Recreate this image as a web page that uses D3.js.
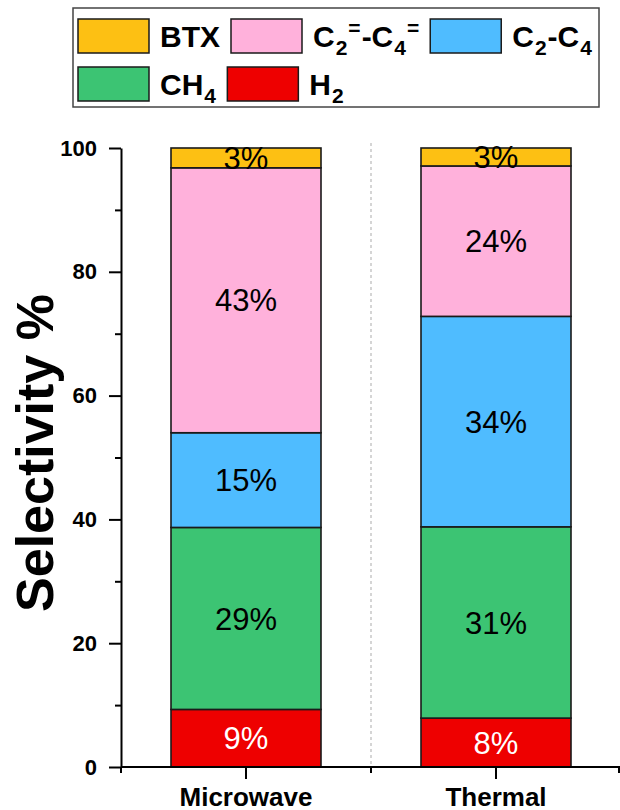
<!DOCTYPE html>
<html>
<head>
<meta charset="utf-8">
<script src="https://cdn.jsdelivr.net/npm/d3@7"></script>
<style>
  html, body { margin: 0; padding: 0; background: #fff; }
  svg { display: block; font-family: Arial, "Liberation Sans", sans-serif; }
</style>
</head>
<body>
<svg id="chart" width="620" height="810"></svg>
<script>
// Product selectivity (%) for the two heating modes, stacked bottom to top
const categories = ["Microwave", "Thermal"];
const h2Values      = [9.3, 7.9];
const ch4Values     = [29.4, 30.9];
const c2c4Values    = [15.3, 34.0];
const olefinValues  = [42.8, 24.3];
const btxValues     = [3.2, 2.9];
const yTickValues   = [0, 20, 40, 60, 80, 100];
const yMinorValues  = [10, 30, 50, 70, 90];

// Series in stacking order (bottom first)
const seriesKeys   = ["H2", "CH4", "C2C4", "Olefin", "BTX"];
const seriesValues = [h2Values, ch4Values, c2c4Values, olefinValues, btxValues];
const seriesColors = ["#ee0000", "#3cc473", "#4fbcff", "#ffb1db", "#fdc013"];
const labelColors  = ["#ffffff", "#000000", "#000000", "#000000", "#000000"];

// Legend labels as text runs (sub / sup mark chemical notation)
const legendLabels = {
  BTX:    [{t: "BTX"}],
  Olefin: [{t: "C"}, {t: "2", s: "sub"}, {t: "=", s: "sup"}, {t: "-C"}, {t: "4", s: "sub"}, {t: "=", s: "sup"}],
  C2C4:   [{t: "C"}, {t: "2", s: "sub"}, {t: "-C"}, {t: "4", s: "sub"}],
  CH4:    [{t: "CH"}, {t: "4", s: "sub"}],
  H2:     [{t: "H"}, {t: "2", s: "sub"}]
};
const legendRows = [["BTX", "Olefin", "C2C4"], ["CH4", "H2"]];

const rows = categories.map((c, i) => {
  const r = {category: c};
  seriesKeys.forEach((k, j) => { r[k] = seriesValues[j][i]; });
  return r;
});
const stacked = d3.stack().keys(seriesKeys)(rows);

const svg = d3.select("#chart");

const x = d3.scaleBand().domain(categories).range([121, 621])
  .paddingInner(0.4).paddingOuter(0.2);
const y = d3.scaleLinear().domain([0, 100]).range([767, 148]);

// dashed separator between the two groups
const sepX = x.range()[0] + x.step();
svg.append("line")
  .attr("x1", sepX).attr("x2", sepX)
  .attr("y1", y(100) - 5).attr("y2", y(0))
  .attr("stroke", "#c8c8c8").attr("stroke-width", 1.5)
  .attr("stroke-dasharray", "3,3");

// stacked bars
const layers = svg.append("g").selectAll("g").data(stacked).join("g")
  .attr("fill", (d, i) => seriesColors[i]);
layers.selectAll("rect").data(d => d).join("rect")
  .attr("x", d => x(d.data.category))
  .attr("width", x.bandwidth())
  .attr("y", d => y(d[1]))
  .attr("height", d => y(d[0]) - y(d[1]))
  .attr("stroke", "#1a1a1a").attr("stroke-width", 1.6);

// value labels centred in each segment
const fmt = d3.format(".0f");
stacked.forEach((layer, i) => {
  svg.append("g").selectAll("text").data(layer).join("text")
    .attr("x", d => x(d.data.category) + x.bandwidth() / 2)
    .attr("y", d => (y(d[0]) + y(d[1])) / 2)
    .attr("dy", "0.36em")
    .attr("text-anchor", "middle")
    .attr("font-size", 31)
    .attr("fill", labelColors[i])
    .text(d => fmt(d[1] - d[0]) + "%");
});

// y axis: major and minor ticks
const yAxis = svg.append("g").attr("transform", "translate(121,0)")
  .call(d3.axisLeft(y).tickValues(yTickValues).tickSize(12).tickSizeOuter(0).tickPadding(12));
yAxis.selectAll("text").attr("font-size", 22).attr("font-weight", "bold")
  .attr("fill", "#000").attr("font-family", "Arial, 'Liberation Sans', sans-serif");
svg.append("g").attr("transform", "translate(121,0)")
  .call(d3.axisLeft(y).tickValues(yMinorValues).tickSize(6).tickSizeOuter(0).tickFormat(""))
  .select(".domain").remove();

// x axis: category ticks plus short ticks at group boundaries
const xAxis = svg.append("g").attr("transform", `translate(0,${y(0)})`)
  .call(d3.axisBottom(x).tickSize(12).tickSizeOuter(0).tickPadding(9));
xAxis.select(".domain").attr("d", `M121,0H620`);
xAxis.selectAll("text").attr("font-size", 26).attr("font-weight", "bold")
  .attr("fill", "#000").attr("font-family", "Arial, 'Liberation Sans', sans-serif");
const boundaries = d3.range(categories.length + 1).map(i => Math.min(x.range()[0] + i * x.step(), 619));
xAxis.selectAll(".minor").data(boundaries).join("line")
  .attr("class", "minor")
  .attr("x1", d => d).attr("x2", d => d)
  .attr("y1", 0).attr("y2", 6)
  .attr("stroke", "#000");

svg.selectAll(".domain, .tick line").attr("stroke", "#000").attr("stroke-width", 2);
svg.selectAll(".minor").attr("stroke-width", 2);

// y axis title
svg.append("text")
  .attr("transform", "translate(53,453) rotate(-90)")
  .attr("text-anchor", "middle")
  .attr("font-size", 52).attr("font-weight", "bold")
  .text("Selectivity %");

// legend
const legend = svg.append("g");
legend.append("rect")
  .attr("x", 73).attr("y", 8).attr("width", 526).attr("height", 99)
  .attr("fill", "#fff").attr("stroke", "#444").attr("stroke-width", 1.5);

const fontMain = 30, fontSmall = 21, subShift = 8, supShift = -12, runGap = 1;
const colorByKey = {};
seriesKeys.forEach((k, i) => { colorByKey[k] = seriesColors[i]; });

legendRows.forEach((row, ri) => {
  let cx = 78;
  const top = 19 + ri * 48;
  row.forEach(key => {
    legend.append("rect")
      .attr("x", cx).attr("y", top).attr("width", 71).attr("height", 34)
      .attr("fill", colorByKey[key]).attr("stroke", "#1a1a1a").attr("stroke-width", 1.5);
    cx += 71 + 11;
    const txt = legend.append("text")
      .attr("x", cx).attr("y", top + 28)
      .attr("font-size", fontMain).attr("font-weight", "bold");
    let offset = 0, prevScript = false;
    legendLabels[key].forEach(part => {
      const target = part.s === "sub" ? subShift : part.s === "sup" ? supShift : 0;
      const gap = (part.s || prevScript) ? runGap : 0;
      txt.append("tspan")
        .attr("dx", gap)
        .attr("dy", target - offset)
        .attr("font-size", part.s ? fontSmall : fontMain)
        .text(part.t);
      offset = target;
      prevScript = !!part.s;
    });
    const bbox = txt.node().getBBox();
    cx = bbox.x + bbox.width + 11;
  });
});
</script>
</body>
</html>
